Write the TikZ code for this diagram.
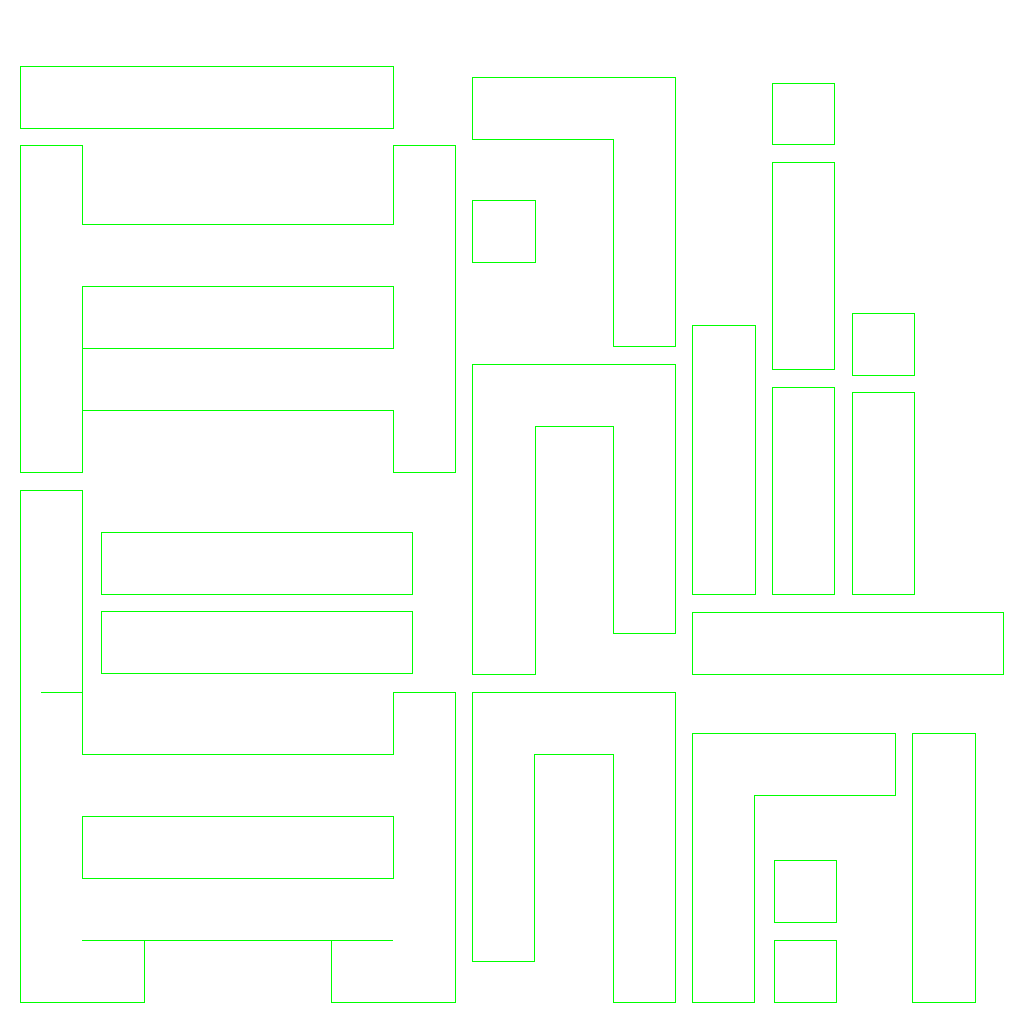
\documentclass[tikz,border=0pt]{standalone}
\usepackage{xcolor}
\usepackage{tikz}
\definecolor{outlineGreen}{HTML}{00FF00}

\begin{document}
\begin{tikzpicture}[x=0.5pt, y=-0.5pt, line width=0.5pt]
    \useasboundingbox[fill=white] (0,0) rectangle (1024,1024);
    % left block, top
    \draw[outlineGreen] (20,66) rectangle (393,128);
    \draw[outlineGreen] (20,145) -- (82,145) -- (82,224) -- (393,224) -- (393,145) -- (455,145)
        -- (455,472) -- (393,472) -- (393,410) -- (82,410) -- (82,472) -- (20,472) -- cycle;
    \draw[outlineGreen] (82,286) rectangle (393,348);
    \draw[outlineGreen] (82,348) -- (82,410);
    % left block, bottom
    \draw[outlineGreen] (20,490) -- (82,490) -- (82,754) -- (393,754) -- (393,692) -- (455,692)
        -- (455,1002) -- (331,1002) -- (331,940) -- (144,940) -- (144,1002) -- (20,1002) -- cycle;
    \draw[outlineGreen] (41,692) -- (82,692);
    \draw[outlineGreen] (82,940) -- (144,940);
    \draw[outlineGreen] (331,940) -- (393,940);
    \draw[outlineGreen] (101,532) rectangle (412,594);
    \draw[outlineGreen] (101,611) rectangle (412,673);
    \draw[outlineGreen] (82,816) rectangle (393,878);
    % middle column
    \draw[outlineGreen] (472,77) -- (675,77) -- (675,346) -- (613,346) -- (613,139) -- (472,139) -- cycle;
    \draw[outlineGreen] (472,200) rectangle (535,262);
    \draw[outlineGreen] (472,364) -- (675,364) -- (675,633) -- (613,633) -- (613,426) -- (535,426)
        -- (535,674) -- (472,674) -- cycle;
    \draw[outlineGreen] (472,692) -- (675,692) -- (675,1002) -- (613,1002) -- (613,754) -- (534,754)
        -- (534,961) -- (472,961) -- cycle;
    % right column
    \draw[outlineGreen] (772,83) rectangle (834,144);
    \draw[outlineGreen] (772,162) rectangle (834,369);
    \draw[outlineGreen] (852,313) rectangle (914,375);
    \draw[outlineGreen] (692,325) rectangle (755,594);
    \draw[outlineGreen] (772,387) rectangle (834,594);
    \draw[outlineGreen] (852,392) rectangle (914,594);
    \draw[outlineGreen] (692,612) rectangle (1003,674);
    \draw[outlineGreen] (692,733) -- (895,733) -- (895,795) -- (754,795) -- (754,1002) -- (692,1002) -- cycle;
    \draw[outlineGreen] (774,860) rectangle (836,922);
    \draw[outlineGreen] (774,940) rectangle (836,1002);
    \draw[outlineGreen] (912,733) rectangle (975,1002);
\end{tikzpicture}
\end{document}
